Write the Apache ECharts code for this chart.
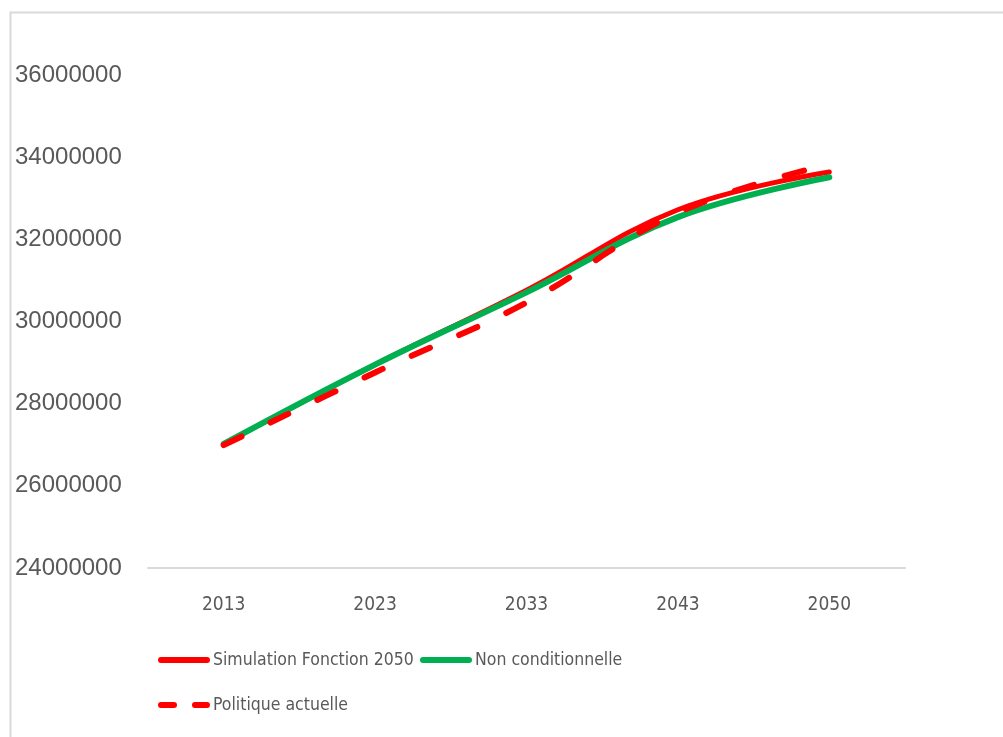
<!DOCTYPE html>
<html>
<head>
<meta charset="utf-8">
<script src="https://cdn.jsdelivr.net/npm/echarts@6/dist/echarts.min.js"></script>
<style>
html,body{margin:0;padding:0;background:#fff;}
#chart{width:1003px;height:737px;}
</style>
</head>
<body>
<div id="chart"></div>
<script>
var years = ['2013', '2023', '2033', '2043', '2050'];
var simulation = [27020000, 28950000, 30760000, 32720000, 33640000];
var nonConditionnelle = [27020000, 28950000, 30710000, 32540000, 33510000];
var politiqueActuelle = [26990000, 28760000, 30460000, 32650000, 33830000];

var chart = echarts.init(document.getElementById('chart'));
var narrow = '"DejaVu Sans Condensed", "Liberation Sans Narrow", sans-serif';
var solidIcon = 'path://M3,0 H49 A3,3 0 0 1 49,6 H3 A3,3 0 0 1 3,0 Z';
var dashIcon = 'path://M3,0 H16 A3,3 0 0 1 16,6 H3 A3,3 0 0 1 3,0 Z M37,0 H49 A3,3 0 0 1 49,6 H37 A3,3 0 0 1 37,0 Z';
var legendText = {color: '#595959', fontFamily: narrow, fontSize: 17.5, padding: [0, 0, 0, -2]};
chart.setOption({
  animation: false,
  backgroundColor: '#fff',
  graphic: [{
    type: 'rect',
    shape: {x: 10.5, y: 12.5, width: 1200, height: 900},
    style: {fill: 'none', stroke: '#d9d9d9', lineWidth: 2},
    silent: true
  }],
  grid: {left: 148, right: 98, top: 75, bottom: 169},
  xAxis: {
    type: 'category',
    data: years,
    boundaryGap: true,
    axisLine: {lineStyle: {color: '#d9d9d9', width: 2}},
    axisTick: {show: false},
    axisLabel: {color: '#595959', fontFamily: narrow, fontSize: 19, margin: 28}
  },
  yAxis: {
    type: 'value',
    min: 24000000,
    max: 36000000,
    interval: 2000000,
    axisLine: {show: false},
    axisTick: {show: false},
    splitLine: {show: false},
    axisLabel: {
      color: '#595959', fontFamily: '"Liberation Sans", sans-serif', fontSize: 24,
      align: 'left', margin: 133,
      formatter: function (v) { return String(v); }
    }
  },
  legend: [{
    data: [{name: 'Simulation Fonction 2050', icon: solidIcon, itemStyle: {color: '#ff0000'}}],
    left: 153, top: 646, itemWidth: 52, itemHeight: 6,
    textStyle: legendText
  }, {
    data: [{name: 'Non conditionnelle', icon: solidIcon, itemStyle: {color: '#00b050'}}],
    left: 415, top: 646, itemWidth: 52, itemHeight: 6,
    textStyle: legendText
  }, {
    data: [{name: 'Politique actuelle', icon: dashIcon, itemStyle: {color: '#ff0000'}}],
    left: 153, top: 691, itemWidth: 52, itemHeight: 6,
    textStyle: legendText
  }],
  series: [{
    name: 'Simulation Fonction 2050',
    type: 'line',
    data: simulation,
    smooth: 0.4,
    symbol: 'none',
    itemStyle: {color: '#ff0000'},
    lineStyle: {color: '#ff0000', width: 5, cap: 'round'}
  }, {
    name: 'Non conditionnelle',
    type: 'line',
    data: nonConditionnelle,
    smooth: 0.4,
    symbol: 'none',
    itemStyle: {color: '#00b050'},
    lineStyle: {color: '#00b050', width: 6, cap: 'round'}
  }, {
    name: 'Politique actuelle',
    type: 'line',
    data: politiqueActuelle,
    smooth: 0.4,
    symbol: 'none',
    itemStyle: {color: '#ff0000'},
    lineStyle: {color: '#ff0000', width: 6, type: [20, 32], cap: 'round'}
  }]
});
</script>
</body>
</html>
